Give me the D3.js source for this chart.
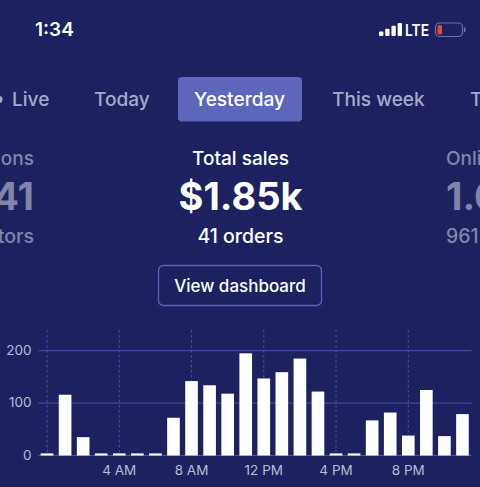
<!DOCTYPE html>
<html>
<head>
<meta charset="utf-8">
<script src="https://d3js.org/d3.v7.min.js"></script>
<style>
  html, body { margin: 0; padding: 0; background: #1d2160; }
  svg { display: block; font-family: Inter, "Noto Sans", sans-serif; }
</style>
</head>
<body>
<svg id="chart" width="480" height="487"></svg>
<script>
const hours = d3.range(24);
const sales = [4, 116, 35, 4, 4, 4, 4, 72, 142, 134, 118, 195, 147, 159, 185, 122, 4, 4, 67, 82, 38, 125, 37, 79];
const yTicks = [0, 100, 200];
const xTickHours = [0, 4, 8, 12, 16, 20];
const xTickLabels = ["", "4 AM", "8 AM", "12 PM", "4 PM", "8 PM"];
const tabs = ["Live", "Today", "Yesterday", "This week", "T"];
const signalBars = [1, 2, 3, 4];

const svg = d3.select("#chart");

const x = d3.scaleBand().domain(hours).range([38, 471.5]).paddingInner(0.3).paddingOuter(0.15);
const y = d3.scaleLinear().domain([0, 200]).range([455.5, 350.7]);

// status bar
svg.append("text").attr("x", 35).attr("y", 36).attr("fill", "#fff")
  .attr("font-size", 19).attr("font-weight", 600).text("1:34");

const sig = d3.scaleBand().domain(signalBars).range([379, 402]).paddingInner(0.3);
svg.append("g").selectAll("rect").data(signalBars).enter().append("rect")
  .attr("x", d => sig(d))
  .attr("y", d => 36 - 1.5 - d * 2.9)
  .attr("width", sig.bandwidth())
  .attr("height", d => 1.5 + d * 2.9)
  .attr("rx", 1)
  .attr("fill", "#fff");
svg.append("text").attr("x", 405).attr("y", 36).attr("fill", "#fff")
  .attr("font-size", 15.5).attr("font-weight", 600).attr("textLength", 24).attr("lengthAdjust", "spacingAndGlyphs").text("LTE");
svg.append("rect").attr("x", 435.5).attr("y", 23).attr("width", 27).attr("height", 13.5)
  .attr("rx", 4).attr("fill", "none").attr("stroke", "#6f739f").attr("stroke-width", 1.2);
svg.append("rect").attr("x", 437.5).attr("y", 25).attr("width", 4.5).attr("height", 9.5)
  .attr("rx", 1.5).attr("fill", "#e8493f");
svg.append("rect").attr("x", 464).attr("y", 27.5).attr("width", 1.5).attr("height", 4.5)
  .attr("fill", "#6f739f");

// tabs
svg.append("rect").attr("x", 178).attr("y", 77).attr("width", 124).attr("height", 44.5)
  .attr("rx", 4).attr("fill", "#5c66bb");
const tabX = [12, 94, 194, 332, 470];
svg.append("g").selectAll("text").data(tabs).enter().append("text")
  .attr("x", (d, i) => tabX[i])
  .attr("y", 106)
  .attr("font-size", 19.1)
  .attr("font-weight", 500)
  .attr("fill", d => d === "Yesterday" ? "#fff" : "#a8aaca")
  .text(d => d);
svg.append("circle").attr("cx", -1).attr("cy", 99.5).attr("r", 3.5).attr("fill", "#a8aaca");

// summary columns
function summary(cx, anchor, title, big, sub, colors) {
  const g = svg.append("g").attr("text-anchor", anchor);
  g.append("text").attr("x", cx).attr("y", 165).attr("font-size", 19).attr("font-weight", 500)
    .attr("fill", colors[0]).text(title);
  g.append("text").attr("x", cx).attr("y", 210).attr("font-size", 38).attr("font-weight", 700)
    .attr("fill", colors[1]).text(big);
  g.append("text").attr("x", cx).attr("y", 243).attr("font-size", 19.5).attr("font-weight", 500)
    .attr("fill", colors[0]).text(sub);
}
summary(240.5, "middle", "Total sales", "$1.85k", "41 orders", ["#fff", "#fff"]);
summary(34, "end", "Sessions", "1,141", "961 visitors", ["#8285ab", "#8285ab"]);
summary(446, "start", "Online store", "1.6k", "961 visitors", ["#8285ab", "#8285ab"]);

// button
svg.append("rect").attr("x", 158.5).attr("y", 265.5).attr("width", 163).attr("height", 40)
  .attr("rx", 5).attr("fill", "none").attr("stroke", "#5c66bb").attr("stroke-width", 1.3);
svg.append("text").attr("x", 240).attr("y", 292).attr("text-anchor", "middle")
  .attr("fill", "#fff").attr("font-size", 17).attr("font-weight", 500).text("View dashboard");

// grid
svg.append("g").selectAll("line").data(yTicks).enter().append("line")
  .attr("x1", 38.5).attr("x2", 471.5)
  .attr("y1", d => y(d)).attr("y2", d => y(d))
  .attr("stroke", "#4d51a8").attr("stroke-width", 1);

svg.append("g").selectAll("line").data(xTickHours).enter().append("line")
  .attr("x1", d => x(d) + x.bandwidth() / 2)
  .attr("x2", d => x(d) + x.bandwidth() / 2)
  .attr("y1", 330).attr("y2", y(0))
  .attr("stroke", "#4d51a8").attr("stroke-width", 1).attr("stroke-dasharray", "2.5,2.5");

// bars
svg.append("g").selectAll("rect").data(hours).enter().append("rect")
  .attr("x", d => x(d))
  .attr("y", d => y(sales[d]))
  .attr("width", x.bandwidth())
  .attr("height", d => y(0) - y(sales[d]))
  .attr("fill", "#fff");

// axes labels
svg.append("g").selectAll("text").data(yTicks).enter().append("text")
  .attr("x", 31.5).attr("y", d => y(d)).attr("dy", "0.3em")
  .attr("text-anchor", "end").attr("font-size", 13.5).attr("fill", "#b9bbd6")
  .text(d => d);

svg.append("g").selectAll("text").data(xTickHours).enter().append("text")
  .attr("x", d => x(d) + x.bandwidth() / 2).attr("y", 474.5)
  .attr("text-anchor", "middle").attr("font-size", 13.5).attr("fill", "#b9bbd6")
  .text((d, i) => xTickLabels[i]);
</script>
</body>
</html>
